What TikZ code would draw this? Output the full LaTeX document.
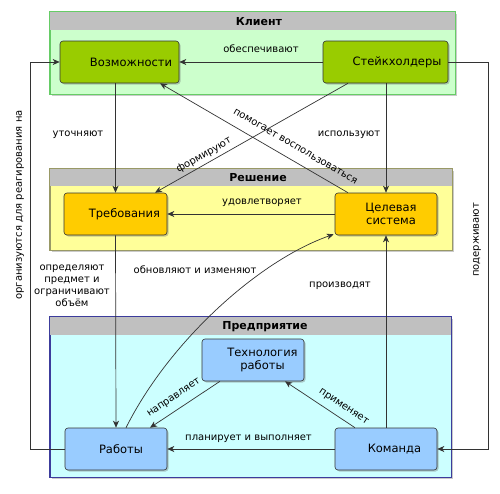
\documentclass[tikz,border=0pt]{standalone}
\usepackage{fontspec}
\setmainfont{DejaVu Sans}
\usetikzlibrary{arrows.meta,shadows}
\definecolor{clfill}{HTML}{CCFFCC}
\definecolor{clborder}{HTML}{66CC66}
\definecolor{hdr}{HTML}{C0C0C0}
\definecolor{solfill}{HTML}{FFFF99}
\definecolor{solborder}{HTML}{999966}
\definecolor{entfill}{HTML}{CCFFFF}
\definecolor{entborder}{HTML}{3C3C9C}
\definecolor{gnode}{HTML}{99CC00}
\definecolor{ynode}{HTML}{FFCC00}
\definecolor{bnode}{HTML}{99CCFF}
\definecolor{lncol}{HTML}{333333}
\tikzset{
  shad/.style={drop shadow={shadow xshift=1.5pt,shadow yshift=-1.5pt,opacity=0.35,fill=black!60}},
  container/.style={rectangle,inner sep=0pt,line width=0.8pt,shad},
  box/.style={rectangle,rounded corners=3pt,draw=black!80,line width=0.6pt,inner sep=0pt,
    minimum height=42pt,align=center,font=\fontsize{11.5}{13.5}\selectfont,shad},
  ttl/.style={font=\bfseries\fontsize{11}{13}\selectfont,inner sep=0pt},
  lbl/.style={font=\fontsize{10}{12}\selectfont,inner sep=0pt,align=center},
  conn/.style={draw=lncol,line width=0.7pt,-{Stealth[length=7pt,width=6pt,inset=2pt]}},
  plain/.style={draw=lncol,line width=0.7pt}
}
\begin{document}
\begin{tikzpicture}[x=1pt,y=-1pt]
\useasboundingbox (0,0) rectangle (500,493);
% containers
\node[container,fill=clfill,draw=clborder,minimum width=405pt,minimum height=82pt] (client) at (252.5,53) {};
\fill[hdr] ([shift={(0.4pt,-0.4pt)}]client.north west) rectangle ([shift={(-0.4pt,-18pt)}]client.north east);
\draw[clborder,line width=0.8pt] (client.south west) rectangle (client.north east);
\node[ttl] (tclient) at (259,22) {Клиент};

\node[container,fill=solfill,draw=solborder,minimum width=402pt,minimum height=81pt] (sol) at (251,209.5) {};
\fill[hdr] ([shift={(0.4pt,-0.4pt)}]sol.north west) rectangle ([shift={(-0.4pt,-17pt)}]sol.north east);
\draw[solborder,line width=0.8pt] (sol.south west) rectangle (sol.north east);
\node[ttl] (tsol) at (258,178) {Решение};

\node[container,fill=entfill,draw=entborder,minimum width=401pt,minimum height=160pt] (ent) at (250.5,397) {};
\fill[hdr] ([shift={(0.4pt,-0.4pt)}]ent.north west) rectangle ([shift={(-0.4pt,-18pt)}]ent.north east);
\draw[entborder,line width=0.8pt] (ent.south west) rectangle (ent.north east);
\node[ttl] (tent) at (265,327) {Предприятие};

% nodes
\node[box,fill=gnode,minimum width=119pt] (voz) at (119.5,62) {\hspace*{23pt}Возможности};
\node[box,fill=gnode,minimum width=125pt] (stk) at (385.5,62) {\hspace*{23pt}Стейкхолдеры};
\node[box,fill=ynode,minimum width=103pt] (treb) at (115.5,214) {\hspace*{18pt}Требования};
\node[box,fill=ynode,minimum width=102pt] (cel) at (386,214) {\hspace*{10pt}Целевая\\\hspace*{10pt}система};
\node[box,fill=bnode,minimum width=102pt] (tech) at (253,360) {\hspace*{19pt}Технология\\\hspace*{19pt}работы};
\node[box,fill=bnode,minimum width=102pt] (rab) at (116,449) {\hspace*{10pt}Работы};
\node[box,fill=bnode,minimum width=102pt] (kom) at (386,449) {\hspace*{17pt}Команда};

% connectors
\draw[conn] (stk.west) -- (voz.west -| voz.east);
\draw[conn] (voz.south -| treb.north) -- (treb.north);
\draw[conn] (stk.south -| cel.north) -- (cel.north);
\draw[conn] ([xshift=-37.5pt]stk.south) -- ([xshift=39.5pt]treb.north);
\draw[conn] ([xshift=-38pt]cel.north) -- ([xshift=40.5pt]voz.south);
\draw[conn] (cel.west) -- (cel.west -| treb.east);
\draw[conn] (treb.south) -- (rab.north);
\draw[conn] (kom.north) -- (cel.south);
\draw[conn] ([xshift=10pt]rab.north) .. controls (170,340) and (260,260) .. ([shift={(-1pt,1pt)}]cel.south west);
\draw[conn] ([xshift=-33pt]tech.south) -- ([xshift=34pt]rab.north);
\draw[conn] ([xshift=-31pt]kom.north) -- ([xshift=32pt]tech.south);
\draw[conn] (kom.west) -- (rab.east);
\draw[conn] (rab.west) -- ++(-34,0) |- (voz.west);
\draw[conn] (stk.east) -- ++(40,0) |- (kom.east);

% labels
\node[lbl] (l1) at (261,49) {обеспечивают};
\node[lbl] (l2) at (78,135) {уточняют};
\node[lbl] (l3) at (349,135) {используют};
\node[lbl,rotate=29.7] (l4) at (204,155) {формируют};
\node[lbl,rotate=-30.3] (l5) at (295.5,146.5) {помогает воспользоваться};
\node[lbl] (l6) at (262,203) {удовлетворяет};
\node[lbl] (l7) at (195,270) {обновляют и изменяют};
\node[lbl] (l8) at (340,286) {производят};
\node[lbl] (l9) at (72,286) {определяют\\предмет и\\ограничивают\\объём};
\node[lbl,rotate=33.9] (l10) at (174,398) {направляет};
\node[lbl,rotate=-33.9] (l11) at (343.5,407) {применяет};
\node[lbl] (l12) at (248.5,439) {планирует и выполняет};
\node[lbl,rotate=90] (l13) at (20,205) {организуются для реагирования на};
\node[lbl,rotate=90] (l14) at (477,240) {подерживают};
\end{tikzpicture}
\end{document}
